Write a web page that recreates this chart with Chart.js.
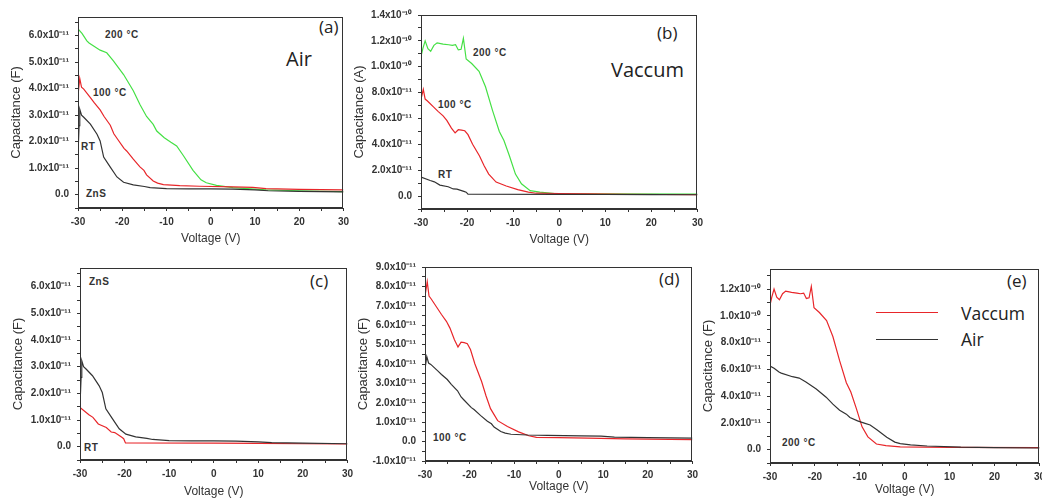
<!DOCTYPE html>
<html>
<head>
<meta charset="utf-8">
<script src="https://cdn.jsdelivr.net/npm/chart.js@4.4.0/dist/chart.umd.min.js"></script>
<style>
  body { margin: 0; width: 1042px; height: 503px; overflow: hidden; background: #fff; position: relative;
         font-family: "Liberation Sans", Arial, sans-serif; }
  .panel { position: absolute; }
  .lbl { position: absolute; white-space: nowrap; color: #222; transform: translateY(-50%); }
  .t { font-size: 10px; font-weight: bold; letter-spacing: 0.5px; color: #333; }
  .big { font-family: "Open Sans", sans-serif; }
  .leg { position: absolute; height: 0; border-top: 1px solid; }
</style>
</head>
<body>

<div class="lbl big" style="left:319px;top:26px;font-size:17px">(a)</div>
<div class="lbl big" style="left:286px;top:58px;font-size:20px">Air</div>
<div class="lbl t" style="left:105px;top:34px">200 °C</div>
<div class="lbl t" style="left:93px;top:92px">100 °C</div>
<div class="lbl t" style="left:81px;top:146px">RT</div>
<div class="lbl t" style="left:86px;top:193px">ZnS</div>

<div class="lbl big" style="left:657px;top:32px;font-size:17px">(b)</div>
<div class="lbl big" style="left:611px;top:69px;font-size:20px">Vaccum</div>
<div class="lbl t" style="left:473px;top:52px">200 °C</div>
<div class="lbl t" style="left:438px;top:104px">100 °C</div>
<div class="lbl t" style="left:438px;top:174px">RT</div>

<div class="lbl t" style="left:89px;top:281px">ZnS</div>
<div class="lbl big" style="left:310px;top:280px;font-size:17px">(c)</div>
<div class="lbl t" style="left:84px;top:447px">RT</div>

<div class="lbl big" style="left:659px;top:278px;font-size:17px">(d)</div>
<div class="lbl t" style="left:433px;top:437px">100 °C</div>

<div class="lbl big" style="left:1007px;top:280px;font-size:17px">(e)</div>
<div class="leg" style="left:876px;top:312px;width:62px;border-color:#e8262a"></div>
<div class="lbl big" style="left:961px;top:313px;font-size:17.5px">Vaccum</div>
<div class="leg" style="left:876px;top:339px;width:62px;border-color:#333"></div>
<div class="lbl big" style="left:961px;top:339px;font-size:17.5px">Air</div>
<div class="lbl t" style="left:782px;top:442px">200 °C</div>

<script>
// capacitance values are in units of 1e-11 F, voltage in V
const airRT_V = [-30, -29.75, -29.6, -29.2, -28.7, -27.2, -25.7, -25, -24.2, -22.7, -21.2, -19.7, -17.5, -15, -13.7, -10, -5, 0, 5, 10, 13, 20, 30];
const airRT_C = [1.55, 2.6, 3.22, 3.0, 2.92, 2.66, 2.28, 2.03, 1.42, 1.04, 0.67, 0.47, 0.37, 0.31, 0.27, 0.23, 0.22, 0.22, 0.21, 0.18, 0.15, 0.13, 0.11];

const air100_V = [-30, -29.6, -29.2, -28.7, -27.2, -26.3, -25, -24.1, -22.7, -21.9, -21.2, -19.6, -19, -17.5, -16, -15.1, -14.5, -13, -12, -10.7, -7, -2.5, 5, 9.5, 12.5, 20, 30];
const air100_C = [3.75, 4.38, 4.05, 3.98, 3.66, 3.46, 3.2, 2.95, 2.62, 2.3, 2.13, 1.75, 1.65, 1.34, 1.05, 0.92, 0.75, 0.52, 0.44, 0.38, 0.34, 0.32, 0.3, 0.28, 0.23, 0.2, 0.18];

const air200_V = [-30, -29.1, -28, -27.5, -25, -23.5, -22, -19.7, -17.5, -16, -14.5, -13, -12.2, -10.5, -9, -7.7, -6.2, -4, -2.2, -1, 1.3, 5, 12.5, 20, 30];
const air200_C = [6.25, 6.08, 5.8, 5.72, 5.45, 5.35, 5.05, 4.53, 3.92, 3.4, 2.95, 2.65, 2.4, 2.15, 1.98, 1.84, 1.48, 0.92, 0.56, 0.45, 0.35, 0.27, 0.18, 0.15, 0.12];

const vacRT_V = [-30, -28, -27.1, -25.9, -24.1, -23, -22.2, -20.7, -20.2, -19.8, 0, 10, 20, 30];
const vacRT_C = [1.47, 1.2, 1.1, 0.85, 0.72, 0.55, 0.53, 0.36, 0.3, 0.14, 0.13, 0.12, 0.11, 0.1];

const vac100_V = [-30, -29.5, -29.1, -28.6, -27.3, -26.3, -25.2, -24.4, -23.4, -22.6, -21.9, -21.2, -20.5, -19.8, -18.8, -17.3, -16.3, -15.3, -13.7, -11.5, -9, -6.7, -5, 0, 6.5, 15, 30];
const vac100_C = [7.5, 8.25, 7.5, 7.35, 6.9, 6.55, 6.2, 5.85, 5.25, 4.88, 5.13, 5.1, 5.05, 4.75, 4.0, 3.1, 2.35, 1.7, 1.08, 0.78, 0.5, 0.3, 0.22, 0.2, 0.18, 0.14, 0.1];

const vac200_V = [-30, -29.6, -29.1, -28.5, -27.9, -27.2, -26.5, -25.2, -24, -23.2, -22.5, -21.9, -21.3, -20.8, -20.2, -19, -17.4, -16, -14.5, -13, -12, -10.8, -9.5, -8.2, -6.3, -4.2, -1, 10, 30];
const vac200_C = [10.8, 11.4, 12.0, 11.4, 11.2, 11.65, 11.85, 11.75, 11.7, 11.65, 11.7, 11.3, 11.35, 12.2, 10.6, 10.25, 9.65, 8.45, 6.65, 5.0, 4.3, 3.1, 1.7, 0.95, 0.42, 0.3, 0.2, 0.17, 0.15];

const xTicks = [-30, -20, -10, 0, 10, 20, 30];

const GREEN = '#45e045', RED = '#e8262a', BLACK = '#333333';
const Y_AXIS_W = 69;

const pts = (vs, cs) => vs.map((v, i) => ({ x: v, y: cs[i] }));

const panels = [
    { rect: [78, 13, 344, 208], yMin: -0.5, yMax: 6.7, yMajor: 1, yMinor: 0.5, yTitle: 'Capacitance (F)', xh: 38,
      series: [[airRT_V, airRT_C, BLACK], [air100_V, air100_C, RED], [air200_V, air200_C, GREEN]] },
    { rect: [421, 11, 698, 209], yMin: -1, yMax: 14, yMajor: 2, yMinor: 1, yTitle: 'Capacitance (A)', xh: 38,
      series: [[vacRT_V, vacRT_C, BLACK], [vac100_V, vac100_C, RED], [vac200_V, vac200_C, GREEN]] },
    { rect: [80, 264, 348, 460], yMin: -0.5, yMax: 6.7, yMajor: 1, yMinor: 0.5, yTitle: 'Capacitance (F)', xh: 39,
      series: [[airRT_V, airRT_C, BLACK], [vacRT_V, vacRT_C, RED]] },
    { rect: [425, 263, 693, 461], yMin: -1, yMax: 9, yMajor: 1, yMinor: 0.5, yTitle: 'Capacitance (F)', xh: 33,
      series: [[air100_V, air100_C, BLACK], [vac100_V, vac100_C, RED]] },
    { rect: [770, 265, 1040, 463], yMin: -1, yMax: 13.5, yMajor: 2, yMinor: 1, yTitle: 'Capacitance (F)', xh: 34,
      series: [[air200_V, air200_C, BLACK], [vac200_V, vac200_C, RED]] }
];

function fmtCap(v) {
    if (Math.abs(v) < 1e-9) return '0.0';
    if (Math.abs(v) >= 10) return (v / 10).toFixed(1) + 'x10\u207B\u00B9\u2070';
    return v.toFixed(1) + 'x10\u207B\u00B9\u00B9';
}

const isMajor = (v, step) => Math.abs(v / step - Math.round(v / step)) < 1e-6;

// cadre du graphique (haut et droite)
const framePlugin = {
    id: 'frame',
    afterDraw(chart) {
        const a = chart.chartArea, ctx = chart.ctx;
        ctx.save();
        ctx.strokeStyle = '#333';
        ctx.lineWidth = 1;
        ctx.strokeRect(Math.round(a.left) + 0.5, Math.round(a.top) + 0.5, Math.round(a.right - a.left) - 1, Math.round(a.bottom - a.top) - 1);
        ctx.restore();
    }
};

const tickFont = { family: '"Liberation Sans", Arial, sans-serif', size: 10, weight: 'bold' };
const xTitleFont = { family: '"Liberation Sans", Arial, sans-serif', size: 12 };
const yTitleFont = { family: '"Liberation Sans", Arial, sans-serif', size: 13 };

panels.forEach(p => {
    const [l, t, r, b] = p.rect;
    const div = document.createElement('div');
    div.className = 'panel';
    div.style.left = (l - Y_AXIS_W) + 'px';
    div.style.top = (t - 8) + 'px';
    div.style.width = (r - l + Y_AXIS_W + 10) + 'px';
    div.style.height = (b - t + 8 + p.xh) + 'px';
    const canvas = document.createElement('canvas');
    div.appendChild(canvas);
    document.body.appendChild(div);

    const yList = [];
    for (let v = p.yMin; v <= p.yMax + 1e-9; v += p.yMinor) yList.push(Math.round(v * 100) / 100);
    const xList = [];
    for (let v = -30; v <= 30; v += 5) xList.push(v);

    new Chart(canvas, {
        type: 'line',
        data: {
            datasets: p.series.map(s => ({
                data: pts(s[0], s[1]),
                borderColor: s[2],
                borderWidth: 1.2,
                pointRadius: 0,
                tension: 0,
                fill: false
            }))
        },
        options: {
            responsive: true,
            maintainAspectRatio: false,
            animation: false,
            layout: { padding: { top: 8, right: 10, left: 0, bottom: 0 } },
            plugins: { legend: { display: false }, tooltip: { enabled: false } },
            scales: {
                x: {
                    type: 'linear',
                    min: -30, max: 30,
                    afterBuildTicks: s => { s.ticks = xList.map(v => ({ value: v })); },
                    afterFit: s => { s.height = p.xh; },
                    grid: { drawOnChartArea: false, drawTicks: true, tickLength: 3, color: '#333' },
                    border: { display: true, color: '#333' },
                    ticks: {
                        autoSkip: false, maxRotation: 0, padding: 5, color: '#333', font: tickFont,
                        callback: v => xTicks.includes(v) ? String(v) : ''
                    },
                    title: { display: true, text: 'Voltage (V)', color: '#333', font: xTitleFont, padding: { top: 0, bottom: 0 } }
                },
                y: {
                    type: 'linear',
                    min: p.yMin, max: p.yMax,
                    afterBuildTicks: s => { s.ticks = yList.map(v => ({ value: v })); },
                    afterFit: s => { s.width = Y_AXIS_W; },
                    grid: { drawOnChartArea: false, drawTicks: true, tickLength: 3, color: '#333' },
                    border: { display: true, color: '#333' },
                    ticks: {
                        autoSkip: false, padding: 6, color: '#333', font: tickFont,
                        callback: v => isMajor(v, p.yMajor) ? fmtCap(v) : ''
                    },
                    title: { display: true, text: p.yTitle, color: '#333', font: yTitleFont, padding: { top: 0, bottom: 0 } }
                }
            }
        },
        plugins: [framePlugin]
    });
});
</script>
</body>
</html>
